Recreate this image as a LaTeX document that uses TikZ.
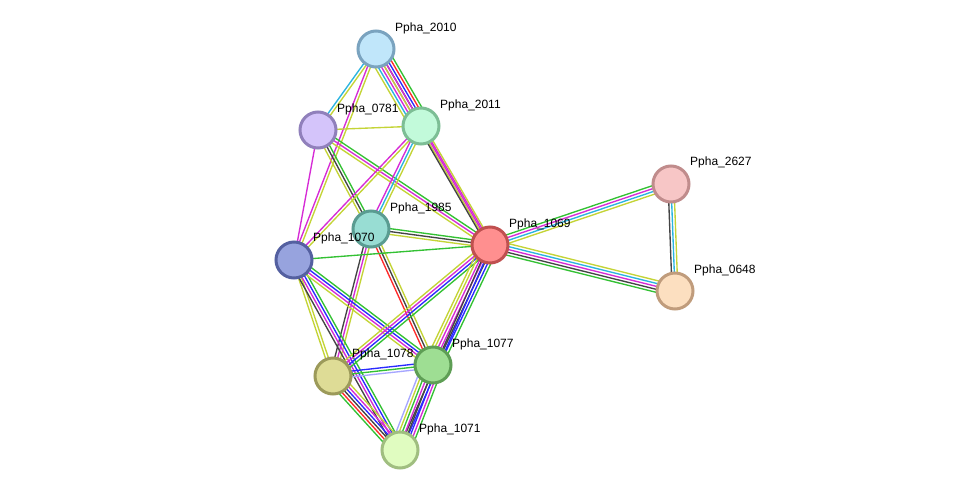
\documentclass[tikz,border=0pt]{standalone}
\usepackage{fontspec}
\setmainfont{Liberation Sans}
\usetikzlibrary{calc}
\pgfdeclarelayer{bg}
\pgfsetlayers{bg,main}
\definecolor{sg}{HTML}{33C133}
\definecolor{sr}{HTML}{FF2A2A}
\definecolor{sb}{HTML}{2A2AFF}
\definecolor{sk}{HTML}{444444}
\definecolor{sm}{HTML}{D62AD6}
\definecolor{sc}{HTML}{2AB4E0}
\definecolor{sy}{HTML}{C4D436}
\definecolor{sl}{HTML}{A6A6FF}
\newcommand\medge[3]{%
  \gdef\nn{0}%
  \foreach \c in {#3}{\pgfmathtruncatemacro\tmp{\nn+1}\global\let\nn\tmp}%
  \foreach \c [count=\i] in {#3}{%
    \pgfmathsetmacro\off{(\i-(\nn+1)/2)*2.9}%
    \draw[\c, line width=1.35pt] ($(#1.center)!\off pt!90:(#2.center)$) -- ($(#2.center)!\off pt!-90:(#1.center)$);
  }%
}
\tikzset{
  prot/.style={circle, minimum size=36pt, inner sep=0pt, line width=3pt},
  lbl/.style={anchor=west, inner sep=0pt, font=\fontsize{12}{14}\selectfont}
}
\begin{document}
\begin{tikzpicture}[x=1pt,y=-1pt]
\useasboundingbox (0,0) rectangle (975,496);
% nodes
\node[prot, fill={rgb,255:red,192;green,230;blue,250}, draw={rgb,255:red,122;green,163;blue,191}] (n2010) at (376,49) {};
\node[prot, fill={rgb,255:red,212;green,196;blue,250}, draw={rgb,255:red,144;green,128;blue,187}] (n0781) at (318,130) {};
\node[prot, fill={rgb,255:red,194;green,250;blue,218}, draw={rgb,255:red,125;green,190;blue,149}] (n2011) at (421,126) {};
\node[prot, fill={rgb,255:red,152;green,221;blue,211}, draw={rgb,255:red,90;green,156;blue,145}] (n1985) at (371,229) {};
\node[prot, fill={rgb,255:red,151;green,163;blue,222}, draw={rgb,255:red,84;green,96;blue,160}] (n1070) at (294,260) {};
\node[prot, fill={rgb,255:red,255;green,143;blue,143}, draw={rgb,255:red,192;green,80;blue,80}] (n1069) at (490,245) {};
\node[prot, fill={rgb,255:red,247;green,198;blue,198}, draw={rgb,255:red,192;green,140;blue,140}] (n2627) at (671,184) {};
\node[prot, fill={rgb,255:red,252;green,223;blue,192}, draw={rgb,255:red,192;green,156;blue,124}] (n0648) at (675,291) {};
\node[prot, fill={rgb,255:red,222;green,220;blue,150}, draw={rgb,255:red,156;green,154;blue,90}] (n1078) at (333,376) {};
\node[prot, fill={rgb,255:red,158;green,222;blue,147}, draw={rgb,255:red,94;green,158;blue,85}] (n1077) at (433,365) {};
\node[prot, fill={rgb,255:red,224;green,252;blue,192}, draw={rgb,255:red,160;green,190;blue,128}] (n1071) at (400,450) {};
% labels
\node[lbl] (l2010) at (395,28.5) {Ppha\_2010};
\node[lbl] (l0781) at (337,109.5) {Ppha\_0781};
\node[lbl] (l2011) at (440,105.5) {Ppha\_2011};
\node[lbl] (l1985) at (390,208.5) {Ppha\_1985};
\node[lbl] (l1070) at (313,238.5) {Ppha\_1070};
\node[lbl] (l1069) at (509,224.5) {Ppha\_1069};
\node[lbl] (l2627) at (690,162.5) {Ppha\_2627};
\node[lbl] (l0648) at (694,270.5) {Ppha\_0648};
\node[lbl] (l1078) at (352,354.5) {Ppha\_1078};
\node[lbl] (l1077) at (452,344.5) {Ppha\_1077};
\node[lbl] (l1071) at (419,429.5) {Ppha\_1071};
% edges
\begin{pgfonlayer}{bg}
\fill[white] (0,0) rectangle (975,496);
\medge{n2010}{n0781}{sc,sy}
\medge{n2010}{n2011}{sy,sc,sm,sm,sk,sb,sr,sg}
\medge{n2010}{n1069}{sy,sm}
\medge{n2010}{n1070}{sm,sy}
\medge{n2011}{n1069}{sk,sm,sy}
\medge{n0781}{n2011}{sy}
\medge{n0781}{n1070}{sm}
\medge{n0781}{n1985}{sy,sk,sg}
\medge{n0781}{n1069}{sy,sm,sg}
\medge{n2011}{n1985}{sm,sc,sy}
\medge{n2011}{n1070}{sm,sy}
\medge{n1985}{n1069}{sy,sk,sg}
\medge{n1985}{n1077}{sr,sk,sy}
\medge{n1985}{n1078}{sk,sm,sy}
\medge{n1070}{n1069}{sg}
\medge{n1070}{n1078}{sy,sy}
\medge{n1070}{n1071}{sk,sm,sb,sg}
\medge{n1070}{n1077}{sy,sm,sb,sg}
\medge{n1069}{n1078}{sy,sm,sb,sg}
\medge{n1069}{n1077}{sy,sy,sm,sm,sk,sb,sg}
\medge{n1069}{n1071}{sk,sb}
\medge{n1069}{n2627}{sy,sc,sm,sg}
\medge{n1069}{n0648}{sg,sk,sm,sc,sy}
\medge{n2627}{n0648}{sk,sc,sy}
\medge{n1078}{n1077}{sl,sg,sb}
\medge{n1078}{n1071}{sg,sr,sk,sb,sm,sy}
\medge{n1077}{n1071}{sl,sy,sg,sm,sk,sb,sm,sg}
\end{pgfonlayer}
\end{tikzpicture}
\end{document}
